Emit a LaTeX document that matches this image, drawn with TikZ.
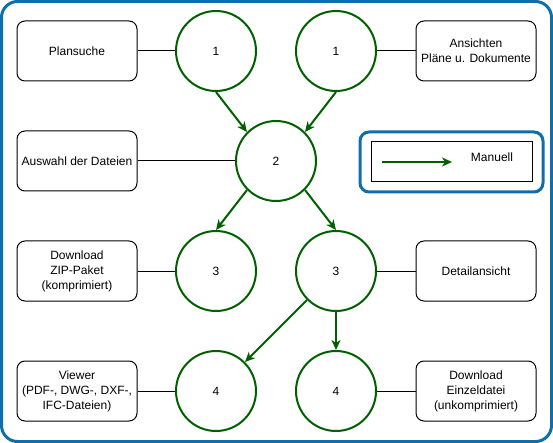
\documentclass[tikz,border=0pt]{standalone}
\usepackage{fontspec}
\setmainfont{Liberation Sans}
\usetikzlibrary{arrows.meta}
\definecolor{frameblue}{RGB}{16,110,170}
\definecolor{stepgreen}{RGB}{0,96,0}
\begin{document}
\begin{tikzpicture}[x=1pt,y=-1pt,
    font=\fontsize{12}{15}\selectfont,
    kreis/.style={circle,draw=stepgreen,line width=2pt,minimum size=80pt,inner sep=0pt},
    feld/.style={rectangle,rounded corners=8pt,draw,line width=1pt,minimum width=120pt,minimum height=60pt,align=center,inner sep=1pt},
    fluss/.style={draw=stepgreen,line width=2pt,-{Stealth[length=10pt,width=9pt,inset=3pt]}}]
  \useasboundingbox (0,0) rectangle (553,443);
  \draw[frameblue,line width=3pt,rounded corners=16pt] (1.5,1.5) rectangle (551.5,441.5);
  \draw
    (216,51) node[kreis] (1a){1}
    (336,51) node[kreis] (1b){1}
    (276,161) node[kreis] (2){2}
    (216,271) node[kreis] (3a){3}
    (336,271) node[kreis] (3b){3}
    (216,391) node[kreis] (4a){4}
    (336,391) node[kreis] (4b){4};
  \draw
    (77,51) node[feld] (plansuche){Plansuche}
    (476,51) node[feld] (ansichten){Ansichten\\Pläne u. Dokumente}
    (77,161) node[feld] (auswahl){Auswahl der Dateien}
    (77,271) node[feld] (zip){Download\\ZIP-Paket\\(komprimiert)}
    (476,271) node[feld] (detail){Detailansicht}
    (77,391) node[feld] (viewer){Viewer\\(PDF-, DWG-, DXF-,\\IFC-Dateien)}
    (476,391) node[feld] (einzel){Download\\Einzeldatei\\(unkomprimiert)};
  \begin{scope}[line width=1pt]
    \draw (plansuche) to (1a);
    \draw (ansichten) to (1b);
    \draw (auswahl) to (2);
    \draw (zip) to (3a);
    \draw (detail) to (3b);
    \draw (viewer) to (4a);
    \draw (einzel) to (4b);
  \end{scope}
  \begin{scope}[fluss]
    \draw (1a.south) to (2.135);
    \draw (1b.south) to (2.45);
    \draw (2.225) to (3a.north);
    \draw (2.315) to (3b.north);
    \draw (3b.225) to (4a.45);
    \draw (3b.south) to (4b.north);
  \end{scope}
  % Legende
  \draw[frameblue,line width=3pt,rounded corners=9pt] (360,132) rectangle (543,192);
  \draw[line width=1pt] (371,142) rectangle (532,182);
  \coordinate (la) at (382,162);
  \coordinate (lb) at (452,162);
  \draw[fluss] (la) to (lb);
  \node (manuell) at (492,157) {Manuell};
\end{tikzpicture}
\end{document}
